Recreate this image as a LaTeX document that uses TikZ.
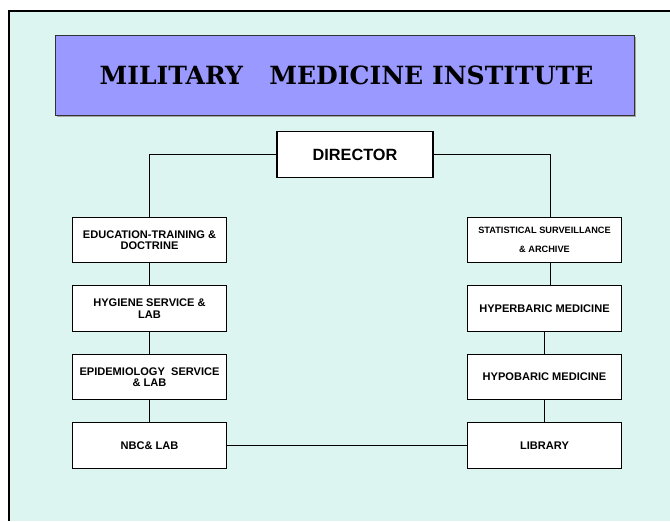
\documentclass[tikz,border=0pt]{standalone}
\usepackage{fontspec}
\setmainfont{Liberation Sans}
\newfontfamily\titlefont{DejaVu Serif}
\definecolor{bgc}{RGB}{221,245,240}
\definecolor{titlec}{RGB}{153,153,255}
\tikzset{
  box/.style={draw=black, line width=0.8pt, fill=white, minimum width=116pt, minimum height=34pt, inner sep=1pt, align=center, font=\bfseries\fontsize{8.3pt}{8.6pt}\selectfont},
  conn/.style={draw=black, line width=0.8pt}
}
\begin{document}
\begin{tikzpicture}[x=0.75pt,y=-0.75pt]
\useasboundingbox (0,0) rectangle (670,521);
\fill[white] (0,0) rectangle (670,521);
\fill[bgc] (9,11) rectangle (670,521);
\draw[line width=1.3pt] (9,521) -- (9,11) -- (670,11);
% title
\fill[gray!70] (57,37) rectangle (636,117);
\node[draw=black!80, line width=0.5pt, fill=titlec, minimum width=434pt, minimum height=60pt, inner sep=0pt, font=\titlefont\bfseries\fontsize{18.8pt}{22pt}\selectfont] (title) at (344.5,75) {\kern3pt MILITARY\ \ \ MEDICINE INSTITUTE};
% director
\node[box, minimum width=117pt, font=\bfseries\fontsize{12.2pt}{14pt}\selectfont] (dir) at (355,154.5) {DIRECTOR};
% left column
\node[box] (edu) at (149.5,240) {EDUCATION-TRAINING \&\\DOCTRINE};
\node[box] (hyg) at (149.5,308.5) {HYGIENE SERVICE \&\\LAB};
\node[box] (epi) at (149.5,377) {EPIDEMIOLOGY\ \ SERVICE\\\& LAB};
\node[box] (nbc) at (149.5,445.5) {NBC\& LAB};
% right column
\node[box, font=\bfseries\fontsize{6.9pt}{14.5pt}\selectfont] (stat) at (544.5,240) {STATISTICAL SURVEILLANCE\\\& ARCHIVE};
\node[box] (hyper) at (544.5,308.5) {HYPERBARIC MEDICINE};
\node[box] (hypo) at (544.5,377) {HYPOBARIC MEDICINE};
\node[box] (lib) at (544.5,445.5) {LIBRARY};
\coordinate (rx) at (550.5,0);
% connectors
\draw[conn] (dir.west) -| (edu.north);
\draw[conn] (edu.south) -- (hyg.north);
\draw[conn] (hyg.south) -- (epi.north);
\draw[conn] (epi.south) -- (nbc.north);
\draw[conn] (dir.east) -| (stat.north -| rx);
\draw[conn] (stat.south -| rx) -- (hyper.north -| rx);
\draw[conn] (hyper.south) -- (hypo.north);
\draw[conn] (hypo.south) -- (lib.north);
\draw[conn] (nbc.east) -- (lib.west);
\end{tikzpicture}
\end{document}
